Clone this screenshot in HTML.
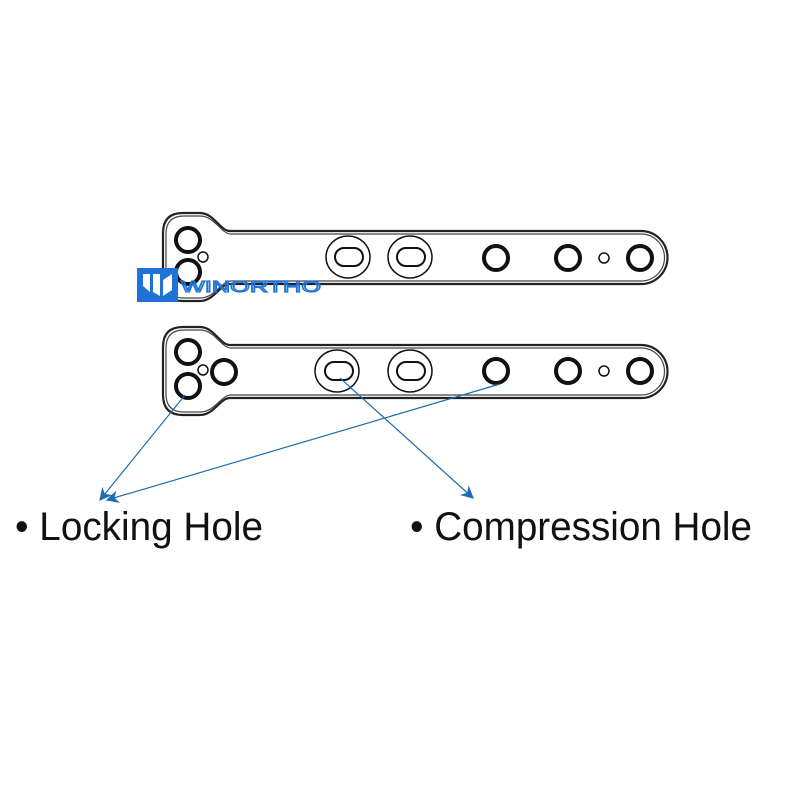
<!DOCTYPE html>
<html><head><style>body{margin:0;background:#fff}svg{display:block}</style></head><body>
<svg width="800" height="800" viewBox="0 0 800 800" xmlns="http://www.w3.org/2000/svg">
<defs>
<marker id="ah" viewBox="0 0 10 10" refX="9" refY="5" markerWidth="16" markerHeight="13" orient="auto-start-reverse" markerUnits="userSpaceOnUse"><path d="M0,0 L10,5 L0,10 L3,5 z" fill="#1f6cb0"/></marker>
<g id="plate">
<path d="M641,0 L230,0 C220,0 214,-18 200,-18 L183,-18 Q163,-18 163,2 L163,50 Q163,70 183,70 L200,70 C214,70 220,53 230,53 L641,53 A26.5,26.5 0 0 0 641,0 Z" fill="none" stroke="#222" stroke-width="2.2"/>
<path d="M641,3 L231,3 C221,3 215,-15 200,-15 L184,-15 Q166,-15 166,3 L166,49 Q166,67 184,67 L200,67 C215,67 221,50 231,50 L641,50 A23.5,23.5 0 0 0 641,3 Z" fill="none" stroke="#444" stroke-width="1.2"/>
</g>
</defs>
<g fill="none" stroke="#111">
<use href="#plate" transform="translate(0,231)"/>
<use href="#plate" transform="translate(0,345)"/>
<circle cx="188" cy="240" r="12" stroke-width="4"/>
<circle cx="188" cy="272" r="12" stroke-width="4"/>
<circle cx="203" cy="257" r="5" stroke-width="1.5"/>
<ellipse cx="348" cy="257" rx="22" ry="21" stroke-width="1.5"/>
<rect x="335" y="248" width="28" height="18" rx="9" stroke-width="2"/>
<ellipse cx="410" cy="257" rx="22" ry="21" stroke-width="1.5"/>
<rect x="397" y="248" width="28" height="18" rx="9" stroke-width="2"/>
<circle cx="496" cy="258" r="12" stroke-width="4"/>
<circle cx="568" cy="258" r="12" stroke-width="4"/>
<circle cx="604" cy="258" r="5" stroke-width="1.5"/>
<circle cx="640" cy="258" r="12" stroke-width="4"/>
<circle cx="188" cy="352" r="12" stroke-width="4"/>
<circle cx="188" cy="386" r="12" stroke-width="4"/>
<circle cx="203" cy="370" r="5" stroke-width="1.5"/>
<circle cx="224" cy="372" r="12" stroke-width="4"/>
<ellipse cx="337" cy="371" rx="22" ry="21" stroke-width="1.5"/>
<rect x="325" y="362" width="28" height="18" rx="9" stroke-width="2"/>
<ellipse cx="410" cy="371" rx="22" ry="21" stroke-width="1.5"/>
<rect x="397" y="362" width="28" height="18" rx="9" stroke-width="2"/>
<circle cx="496" cy="371" r="12" stroke-width="4"/>
<circle cx="568" cy="371" r="12" stroke-width="4"/>
<circle cx="604" cy="371" r="5" stroke-width="1.5"/>
<circle cx="640" cy="371" r="12" stroke-width="4"/>
</g>
<rect x="137" y="268" width="41" height="34" fill="#1f73d8"/>
<path d="M143,274 L150,274 L150,292 L143,286 Z M153,274 L160,274 L160,296 L153,292 Z M163,280 L172,274 L172,290 L163,296 Z" fill="#fff"/>
<text x="181" y="292" font-family="Liberation Sans, sans-serif" font-size="16" fill="none" stroke="#1f73d8" stroke-width="1.2" textLength="140" lengthAdjust="spacingAndGlyphs">WINORTHO</text>
<g stroke="#1f6cb0" stroke-width="1.2" fill="none">
<line x1="185" y1="395" x2="100" y2="500" marker-end="url(#ah)"/>
<line x1="500" y1="384" x2="107" y2="500" marker-end="url(#ah)"/>
<line x1="340" y1="378" x2="473" y2="498" marker-end="url(#ah)"/>
</g>
<g font-family="Liberation Sans, sans-serif" font-size="40" fill="#111">
<text x="15" y="540" textLength="248" lengthAdjust="spacingAndGlyphs">• Locking Hole</text>
<text x="410" y="540" textLength="342" lengthAdjust="spacingAndGlyphs">• Compression Hole</text>
</g>
</svg>
</body></html>
